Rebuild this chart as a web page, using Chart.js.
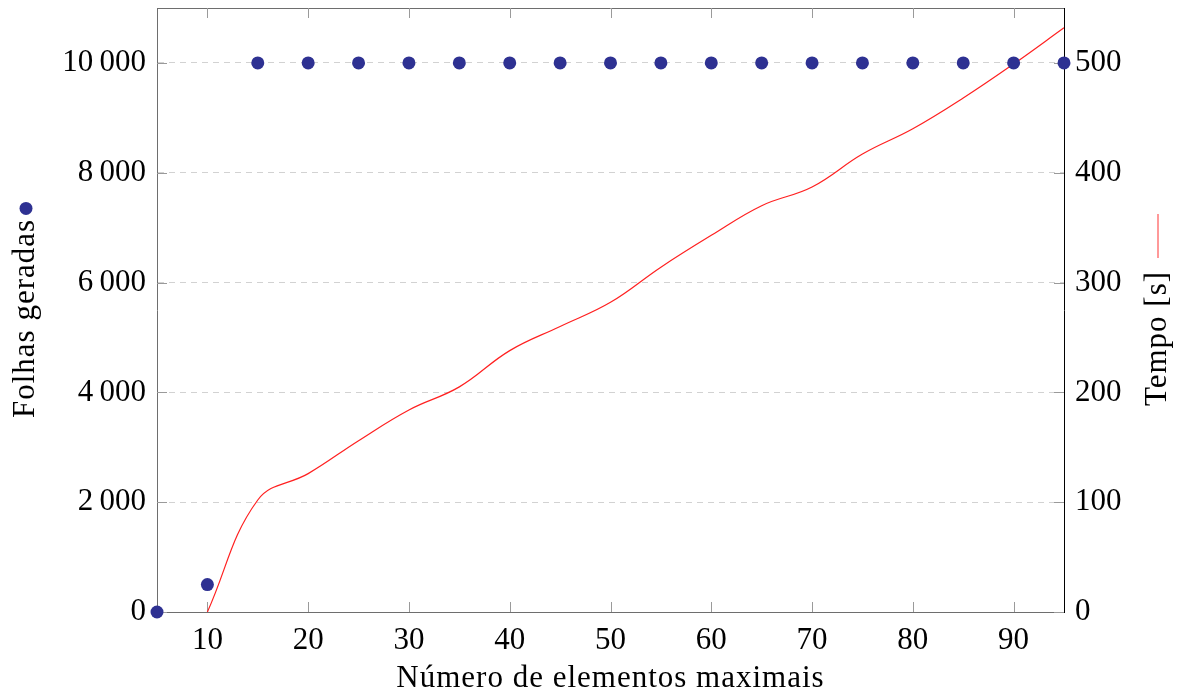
<!DOCTYPE html>
<html>
<head>
<meta charset="utf-8">
<script src="https://cdn.jsdelivr.net/npm/chart.js@4.4.1/dist/chart.umd.min.js"></script>
<style>
  html, body { margin: 0; padding: 0; background: #fff; }
  #wrap { width: 1182px; height: 693px; position: relative; }
</style>
</head>
<body>
<div id="wrap"><canvas id="chart"></canvas></div>
<script>
// dados
const elementos = [5, 10, 15, 20, 25, 30, 35, 40, 45, 50, 55, 60, 65, 70, 75, 80, 85, 90, 95];
const folhasGeradas = [0, 500, 10000, 10000, 10000, 10000, 10000, 10000, 10000, 10000, 10000, 10000, 10000, 10000, 10000, 10000, 10000, 10000, 10000];
const tempo = [null, 0, 102, 126, 156, 184, 205, 238, 260, 282, 314, 343, 370, 387, 417, 440, 468, 499, 532];

const xTicks = [10, 20, 30, 40, 50, 60, 70, 80, 90];
const folhasTicks = [0, 2000, 4000, 6000, 8000, 10000];
const tempoTicks = [0, 100, 200, 300, 400, 500];

const FONT = '"Liberation Serif", "DejaVu Serif", serif';
const fmt = v => String(v).replace(/\B(?=(\d{3})+(?!\d))/g, '\u2009');

const framePlugin = {
  id: 'frame',
  beforeDatasetsDraw(chart) {
    const { ctx, chartArea: a, scales } = chart;
    ctx.save();
    ctx.lineWidth = 1;
    ctx.strokeStyle = '#6e6e6e';
    ctx.beginPath();
    ctx.moveTo(a.left, a.top + 0.5);
    ctx.lineTo(a.right, a.top + 0.5);
    ctx.stroke();

    // ticks para dentro
    ctx.strokeStyle = '#9a9a9a';
    ctx.beginPath();
    scales.x.ticks.forEach(t => {
      const px = Math.round(scales.x.getPixelForValue(t.value)) + 0.5;
      ctx.moveTo(px, a.bottom); ctx.lineTo(px, a.bottom - 10);
      ctx.moveTo(px, a.top); ctx.lineTo(px, a.top + 10);
    });
    scales.y.ticks.forEach(t => {
      const py = Math.round(scales.y.getPixelForValue(t.value)) + 0.5;
      ctx.moveTo(a.left, py); ctx.lineTo(a.left + 10, py);
    });
    scales.y1.ticks.forEach(t => {
      const py = Math.round(scales.y1.getPixelForValue(t.value)) + 0.5;
      ctx.moveTo(a.right, py); ctx.lineTo(a.right - 10, py);
    });
    ctx.stroke();
    ctx.restore();
  },
  afterDraw(chart) {
    const { ctx, chartArea: a } = chart;
    const cy = (a.top + a.bottom) / 2;
    ctx.save();
    ctx.fillStyle = '#000';
    ctx.font = '31px ' + FONT;
    ctx.letterSpacing = '1px';
    ctx.textBaseline = 'alphabetic';

    // eixo x
    ctx.textAlign = 'center';
    ctx.fillText('Número de elementos maximais', (a.left + a.right) / 2, 687);

    // eixo y esquerdo + marcador
    ctx.textAlign = 'left';
    let w = ctx.measureText('Folhas geradas').width;
    let start = cy + (w + 4 + 13) / 2;
    ctx.save();
    ctx.translate(34, start);
    ctx.rotate(-Math.PI / 2);
    ctx.fillText('Folhas geradas', 0, 0);
    ctx.restore();
    ctx.fillStyle = '#2e3192';
    ctx.beginPath();
    ctx.arc(26, start - w - 4 - 6.5, 6.5, 0, Math.PI * 2);
    ctx.fill();

    // eixo y direito + marcador
    ctx.fillStyle = '#000';
    w = ctx.measureText('Tempo [s]').width;
    start = cy + (w + 13 + 44) / 2;
    ctx.save();
    ctx.translate(1166, start);
    ctx.rotate(-Math.PI / 2);
    ctx.fillText('Tempo [s]', 0, 0);
    ctx.restore();
    ctx.strokeStyle = '#ff5555';
    ctx.lineWidth = 1.2;
    ctx.beginPath();
    ctx.moveTo(1158, start - w - 13);
    ctx.lineTo(1158, start - w - 13 - 44);
    ctx.stroke();
    ctx.restore();
  }
};

new Chart(document.getElementById('chart'), {
  type: 'line',
  data: {
    datasets: [
      {
        label: 'Folhas geradas',
        data: elementos.map((x, i) => ({ x, y: folhasGeradas[i] })),
        yAxisID: 'y',
        showLine: false,
        pointRadius: 6.5,
        pointBackgroundColor: '#2e3192',
        pointBorderWidth: 0,
        clip: false
      },
      {
        label: 'Tempo [s]',
        data: elementos.map((x, i) => ({ x, y: tempo[i] })),
        yAxisID: 'y1',
        borderColor: '#ff2020',
        borderWidth: 1.2,
        pointRadius: 0,
        tension: 0.4,
        spanGaps: false
      }
    ]
  },
  options: {
    responsive: true,
    maintainAspectRatio: false,
    animation: false,
    layout: { padding: { top: 8, left: 0, right: 0, bottom: 0 } },
    plugins: { legend: { display: false }, tooltip: { enabled: false } },
    scales: {
      x: {
        type: 'linear',
        min: 5,
        max: 95,
        afterBuildTicks: s => { s.ticks = xTicks.map(v => ({ value: v })); },
        afterFit: s => { s.height = 81; s.paddingLeft = 0; s.paddingRight = 0; },
        grid: { display: false, drawTicks: false },
        border: { display: true, color: '#6e6e6e', width: 1 },
        ticks: { font: { family: FONT, size: 31 }, color: '#000', padding: 10, maxRotation: 0 }
      },
      y: {
        position: 'left',
        min: 0,
        max: 11000,
        afterBuildTicks: s => { s.ticks = folhasTicks.map(v => ({ value: v })); },
        afterFit: s => { s.width = 157; s.paddingTop = 0; s.paddingBottom = 0; },
        grid: {
          drawTicks: false,
          tickLength: 0,
          color: c => (c.tick && c.tick.value === 0) ? 'rgba(0,0,0,0)' : '#d2d2d2'
        },
        border: { display: true, color: '#6e6e6e', width: 1, dash: [6, 5] },
        ticks: { font: { family: FONT, size: 31 }, color: '#000', padding: 11, callback: v => fmt(v) }
      },
      y1: {
        position: 'right',
        min: 0,
        max: 550,
        afterBuildTicks: s => { s.ticks = tempoTicks.map(v => ({ value: v })); },
        afterFit: s => { s.width = 118; s.paddingTop = 0; s.paddingBottom = 0; },
        grid: { drawOnChartArea: false, drawTicks: false, tickLength: 0 },
        border: { display: true, color: '#000', width: 1 },
        ticks: { font: { family: FONT, size: 31 }, color: '#000', padding: 11 }
      }
    }
  },
  plugins: [framePlugin]
});
</script>
</body>
</html>
